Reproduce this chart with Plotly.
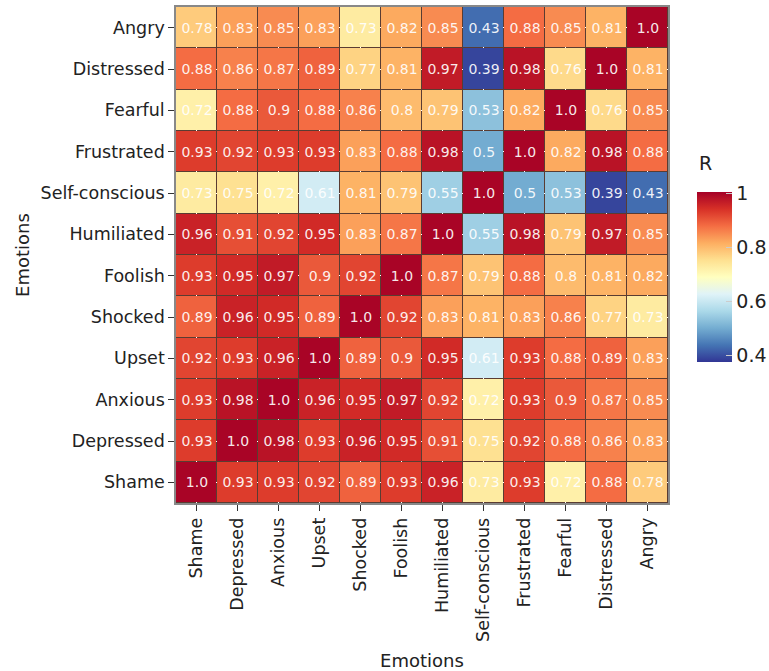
import plotly.graph_objects as go

emotions = ['Shame', 'Depressed', 'Anxious', 'Upset', 'Shocked', 'Foolish',
            'Humiliated', 'Self-conscious', 'Frustrated', 'Fearful', 'Distressed', 'Angry']

# rows in the same order as emotions (bottom row = Shame)
shame = [1.0, 0.93, 0.93, 0.92, 0.89, 0.93, 0.96, 0.73, 0.93, 0.72, 0.88, 0.78]
depressed = [0.93, 1.0, 0.98, 0.93, 0.96, 0.95, 0.91, 0.75, 0.92, 0.88, 0.86, 0.83]
anxious = [0.93, 0.98, 1.0, 0.96, 0.95, 0.97, 0.92, 0.72, 0.93, 0.9, 0.87, 0.85]
upset = [0.92, 0.93, 0.96, 1.0, 0.89, 0.9, 0.95, 0.61, 0.93, 0.88, 0.89, 0.83]
shocked = [0.89, 0.96, 0.95, 0.89, 1.0, 0.92, 0.83, 0.81, 0.83, 0.86, 0.77, 0.73]
foolish = [0.93, 0.95, 0.97, 0.9, 0.92, 1.0, 0.87, 0.79, 0.88, 0.8, 0.81, 0.82]
humiliated = [0.96, 0.91, 0.92, 0.95, 0.83, 0.87, 1.0, 0.55, 0.98, 0.79, 0.97, 0.85]
self_conscious = [0.73, 0.75, 0.72, 0.61, 0.81, 0.79, 0.55, 1.0, 0.5, 0.53, 0.39, 0.43]
frustrated = [0.93, 0.92, 0.93, 0.93, 0.83, 0.88, 0.98, 0.5, 1.0, 0.82, 0.98, 0.88]
fearful = [0.72, 0.88, 0.9, 0.88, 0.86, 0.8, 0.79, 0.53, 0.82, 1.0, 0.76, 0.85]
distressed = [0.88, 0.86, 0.87, 0.89, 0.77, 0.81, 0.97, 0.39, 0.98, 0.76, 1.0, 0.81]
angry = [0.78, 0.83, 0.85, 0.83, 0.73, 0.82, 0.85, 0.43, 0.88, 0.85, 0.81, 1.0]

z = [shame, depressed, anxious, upset, shocked, foolish,
     humiliated, self_conscious, frustrated, fearful, distressed, angry]

# labels like "1.0", "0.9", "0.93"
text = [[('%.2f' % v).rstrip('0') for v in row] for row in z]
text = [[t + '0' if t.endswith('.') else t for t in row] for row in text]

fig = go.Figure(go.Heatmap(
    z=z, x=emotions, y=emotions,
    text=text, texttemplate='%{text}',
    textfont=dict(color='rgba(255,255,255,0.92)', size=14),
    colorscale='RdYlBu_r', zmin=0.375, zmax=1.005,
    xgap=1, ygap=1,
    colorbar=dict(
        thickness=35, thicknessmode='pixels',
        len=170, lenmode='pixels', xpad=0, ypad=0,
        x=0.8786, xanchor='left', y=0.4556, yanchor='middle',
        tickvals=[0.4, 0.6, 0.8, 1.0], ticktext=['0.4', '0.6', '0.8', '1'],
        ticks='inside', ticklen=6, tickcolor='#cccccc',
        tickfont=dict(size=19, color='#222'),
        outlinewidth=0,
    ),
))

# colorbar title sits well above the bar
fig.add_annotation(
    text='R', showarrow=False,
    xref='paper', x=0.879, xanchor='left',
    yref='paper', y=0.6855, yanchor='middle',
    font=dict(size=19, color='#222'),
)

fig.update_layout(
    width=769, height=671,
    margin=dict(l=176, r=0, t=7, b=168, autoexpand=False),
    font=dict(family='DejaVu Sans', color='#222'),
    plot_bgcolor='rgba(90,60,50,1)',
    paper_bgcolor='white',
    xaxis=dict(title=dict(text='Emotions', font=dict(size=18), standoff=13),
               domain=[0, 0.8297], automargin=False,
               tickangle=-90, tickfont=dict(size=17.5),
               ticks='outside', ticklen=6, tickcolor='#333',
               showline=True, linecolor='#888', linewidth=1.5, mirror=True),
    yaxis=dict(title=dict(text='Emotions', font=dict(size=18), standoff=6),
               automargin=False,
               tickfont=dict(size=17.5),
               ticks='outside', ticklen=6, tickcolor='#333',
               showline=True, linecolor='#888', linewidth=1.5, mirror=True),
)

# drop the default page margin so the figure fills the window exactly
fig.write_html('out.html',
               config={'displayModeBar': False},
               post_script="document.body.style.margin='0';document.body.style.overflow='hidden';")
